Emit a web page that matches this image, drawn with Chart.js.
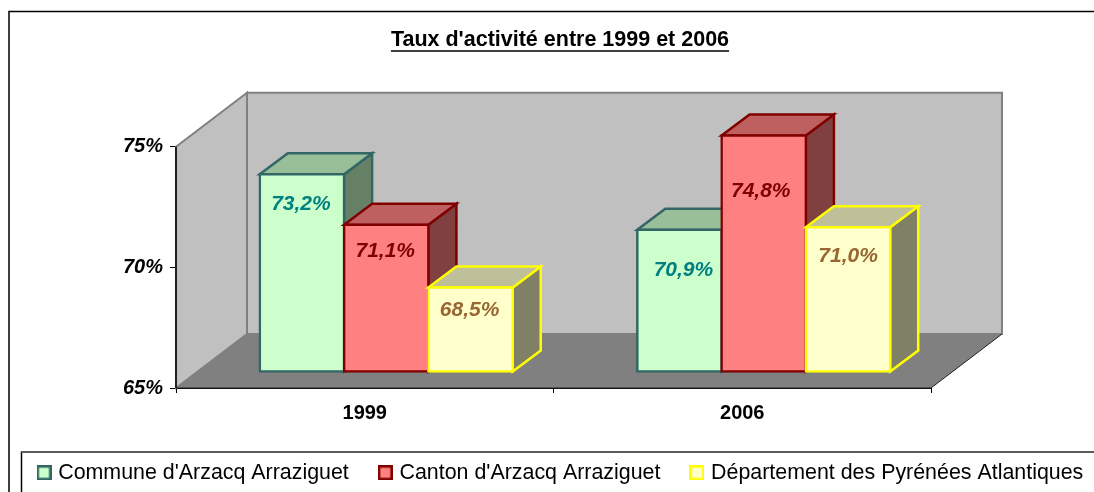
<!DOCTYPE html>
<html lang="fr">
<head>
	<meta charset="UTF-8">
	<title>Taux d'activité entre 1999 et 2006</title>
	<script src="https://cdn.jsdelivr.net/npm/chart.js@4/dist/chart.umd.min.js"></script>
	<style>
		html, body { margin: 0; padding: 0; background: #fff; }
		canvas { display: block; }
	</style>
</head>
<body>

	<canvas id="barChart" width="1094" height="492"></canvas>

	<script>
	var chartTitle = "Taux d'activité entre 1999 et 2006";
	var years = ["1999", "2006"];
	var commune = [73.2, 70.9];
	var canton = [71.1, 74.8];
	var departement = [68.5, 71.0];
	var seriesNames = ["Commune d'Arzacq Arraziguet", "Canton d'Arzacq Arraziguet", "Département des Pyrénées Atlantiques"];
	var yTicksMin = 65;
	var yTicksMax = 75;
	var yTicksStep = 5;

	var fontName = "'Liberation Sans', Arial, sans-serif";

	// how far the walls go back, where the bars stand, how deep they are
	var wallDepth = { x: 71, y: 54 };
	var barShift = { x: 21.5, y: 16 };
	var barDepth = { x: 28, y: 21 };

	// labels were moved by hand in the original, so px from the bar centre / top per series and year
	var labelNudge = [[-1, 4], [-1, -3], [-1, 0]];
	var labelDrop = [[30, 41], [26, 56], [23, 29]];
	var labelColors = ["#008080", "#800000", "#996633"];
	var fillColors = ["#CCFFCC", "#FF8080", "#FFFFCC"];
	var borderColors = ["#336666", "#800000", "#FFFF00"];
	var topColors = ["#99BF99", "#BF6060", "#BFBF99"];
	var sideColors = ["#668066", "#804040", "#808066"];

	function formatValue(v) {
		return v.toFixed(1).replace(".", ",") + "%";
	}

	function poly(ctx, pts, fill, stroke, width) {
		ctx.beginPath();
		ctx.moveTo(pts[0][0], pts[0][1]);
		for (var i = 1; i < pts.length; i++) {
			ctx.lineTo(pts[i][0], pts[i][1]);
		}
		ctx.closePath();
		if (fill) {
			ctx.fillStyle = fill;
			ctx.fill();
		}
		if (stroke) {
			ctx.strokeStyle = stroke;
			ctx.lineWidth = width;
			ctx.stroke();
		}
	}

	//small canvas used as the legend's point style, it sits wider than the slot the legend keeps for it
	function makeSwatch(i) {
		var c = document.createElement("canvas");
		c.width = 15;
		c.height = 15;
		var g = c.getContext("2d");
		g.fillStyle = borderColors[i];
		g.fillRect(0, 0, 15, 15);
		g.fillStyle = fillColors[i];
		g.fillRect(2.5, 2.5, 10, 10);
		return c;
	}

	//white page, outer frame, legend frame, then the walls and the floor
	var backdrop = {
		id: "backdrop",
		beforeDraw: function(chart) {
			var ctx = chart.ctx;
			ctx.save();
			ctx.fillStyle = "#fff";
			ctx.fillRect(0, 0, chart.width, chart.height);
			ctx.strokeStyle = "#000";
			ctx.lineWidth = 1.5;
			ctx.strokeRect(9, 11.5, chart.width, chart.height);
			ctx.strokeRect(21.5, 452, chart.width, chart.height);
			ctx.strokeStyle = "#666";
			ctx.beginPath();
			ctx.moveTo(21, 452);
			ctx.lineTo(chart.width, 452);
			ctx.stroke();
			ctx.restore();
		},
		beforeDatasetsDraw: function(chart) {
			var ctx = chart.ctx;
			var a = chart.chartArea;
			var dx = wallDepth.x;
			var dy = wallDepth.y;
			ctx.save();
			poly(ctx, [[a.left, a.top], [a.left + dx, a.top - dy], [a.left + dx, a.bottom - dy], [a.left, a.bottom]], "#C0C0C0", "#808080", 2);
			poly(ctx, [[a.left + dx, a.top - dy], [a.right + dx, a.top - dy], [a.right + dx, a.bottom - dy], [a.left + dx, a.bottom - dy]], "#C0C0C0", "#808080", 2);
			poly(ctx, [[a.left, a.bottom], [a.right, a.bottom], [a.right + dx, a.bottom - dy], [a.left + dx, a.bottom - dy]], "#808080");
			ctx.beginPath();
			ctx.moveTo(a.left, a.bottom);
			ctx.lineTo(a.right, a.bottom);
			ctx.lineTo(a.right + dx, a.bottom - dy);
			ctx.strokeStyle = "#222";
			ctx.lineWidth = 1;
			ctx.stroke();
			ctx.beginPath();
			ctx.moveTo(a.left, a.top);
			ctx.lineTo(a.left, a.bottom);
			ctx.strokeStyle = "#000";
			ctx.lineWidth = 1.5;
			ctx.stroke();
			ctx.restore();
		}
	};

	//series have to paint left to right here, the library would do it the other way round,
	//so its own pass is cancelled and each controller is called from here
	var boxes = {
		id: "boxes",
		beforeDatasetsDraw: function(chart) {
			var ctx = chart.ctx;
			chart.data.datasets.forEach(function(ds, i) {
				var meta = chart.getDatasetMeta(i);
				ctx.save();
				ctx.translate(barShift.x, -barShift.y);
				meta.data.forEach(function(bar) {
					var l = bar.x - bar.width / 2;
					var r = bar.x + bar.width / 2;
					var dx = barDepth.x;
					var dy = barDepth.y;
					poly(ctx, [[r, bar.y], [r + dx, bar.y - dy], [r + dx, bar.base - dy], [r, bar.base]], sideColors[i], ds.borderColor, 2.5);
					poly(ctx, [[l, bar.y], [l + dx, bar.y - dy], [r + dx, bar.y - dy], [r, bar.y]], topColors[i], ds.borderColor, 2.5);
				});
				meta.controller.draw();
				ctx.restore();
			});
		},
		beforeDatasetDraw: function() {
			return false;
		},
		afterDatasetsDraw: function(chart) {
			var ctx = chart.ctx;
			ctx.save();
			ctx.font = "italic bold 21px " + fontName;
			ctx.textAlign = "center";
			ctx.textBaseline = "middle";
			chart.data.datasets.forEach(function(ds, i) {
				chart.getDatasetMeta(i).data.forEach(function(bar, j) {
					ctx.fillStyle = labelColors[i];
					ctx.fillText(formatValue(ds.data[j]), bar.x + barShift.x + labelNudge[i][j], bar.y - barShift.y + labelDrop[i][j]);
				});
			});
			ctx.restore();
		}
	};

	//underline for the title, and the legend goes down in its own frame
	var placement = {
		id: "placement",
		afterLayout: function(chart) {
			chart.legend.left = 7.5;
			chart.legend.right = 1200;
			chart.legend.top = 429;
		},
		afterDraw: function(chart) {
			var ctx = chart.ctx;
			var t = chart.titleBlock;
			var cx = (t.left + t.right) / 2;
			ctx.save();
			ctx.font = "bold 21.5px " + fontName;
			var w = ctx.measureText(chartTitle).width;
			ctx.strokeStyle = "#000";
			ctx.lineWidth = 1.5;
			ctx.beginPath();
			ctx.moveTo(cx - w / 2, 51);
			ctx.lineTo(cx + w / 2, 51);
			ctx.stroke();
			ctx.restore();
		}
	};

	var ctx = document.getElementById("barChart").getContext("2d");

	var myChart = new Chart(ctx, {
		type: "bar",
		data: {
			labels: years,
			datasets: [
				{ label: seriesNames[0], data: commune, backgroundColor: fillColors[0], borderColor: borderColors[0] },
				{ label: seriesNames[1], data: canton, backgroundColor: fillColors[1], borderColor: borderColors[1] },
				{ label: seriesNames[2], data: departement, backgroundColor: fillColors[2], borderColor: borderColors[2] }
			]
		},
		options: {
			responsive: false,
			animation: false,
			events: [],
			layout: { padding: { left: 26, top: 27, right: 0, bottom: 5 } },
			datasets: {
				bar: {
					base: yTicksMin,
					borderWidth: 2.5,
					inflateAmount: 1.25,
					borderSkipped: false,
					categoryPercentage: 0.67,
					barPercentage: 1,
					clip: false
				}
			},
			plugins: {
				title: {
					display: true,
					text: chartTitle,
					color: "#000",
					font: { family: fontName, size: 21.5, weight: "bold" },
					padding: { top: 0, bottom: 94 }
				},
				legend: {
					position: "bottom",
					align: "start",
					maxHeight: 54,
					labels: {
						color: "#000",
						font: { family: fontName, size: 21.4 },
						usePointStyle: true,
						boxHeight: 14,
						pointStyleWidth: 7,
						padding: 33,
						generateLabels: function(chart) {
							var items = Chart.defaults.plugins.legend.labels.generateLabels(chart);
							items.forEach(function(item, i) {
								item.pointStyle = makeSwatch(i);
							});
							return items;
						}
					}
				},
				tooltip: { enabled: false }
			},
			scales: {
				x: {
					grid: { drawOnChartArea: false, tickLength: 5, color: "#000" },
					border: { color: "#000" },
					ticks: { color: "#000", padding: 8, font: { family: fontName, size: 20, weight: "bold" } }
				},
				y: {
					min: yTicksMin,
					max: yTicksMax,
					afterFit: function(scale) { scale.width = 150; },
					grid: { drawOnChartArea: false, tickLength: 6, color: "#000" },
					border: { color: "#000" },
					ticks: {
						stepSize: yTicksStep,
						color: "#000",
						padding: 7,
						font: { family: fontName, size: 20, weight: "bold", style: "italic" },
						callback: function(v) { return v + "%"; }
					}
				},
				spare: {
					position: "right",
					afterFit: function(scale) { scale.width = 163; },
					grid: { display: false },
					border: { display: false },
					ticks: { display: false }
				}
			}
		},
		plugins: [backdrop, boxes, placement]
	});
	</script>

</body>
</html>
